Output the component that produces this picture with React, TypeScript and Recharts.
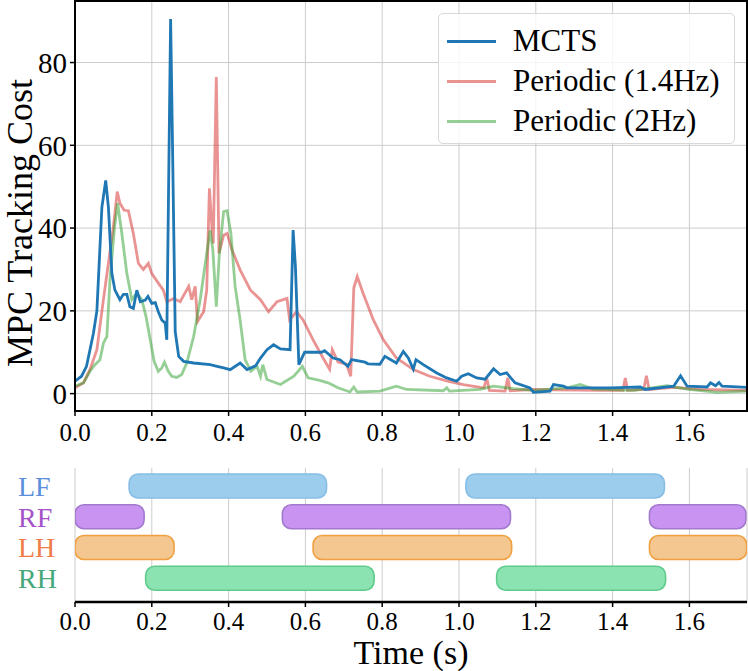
import React from 'react';
import { LineChart, Line, XAxis, YAxis, CartesianGrid, BarChart, Bar, Cell } from 'recharts';

const FONT = '"Liberation Serif", "Times New Roman", serif';

// ---- top panel data ----
const mctsTime = [0, .017, .03, .048, .057, .07, .08, .087, .096, .104, .117, .126, .135, .143, .152, .161, .17, .183, .19, .2, .209, .217, .226, .235, .239, .249, .253, .261, .27, .283, .309, .352, .37, .387, .404, .43, .448, .47, .483, .5, .517, .535, .56, .568, .574, .583, .598, .642, .65, .672, .69, .711, .72, .755, .763, .794, .807, .837, .855, .868, .881, .888, .907, .942, .968, .994, 1.007, 1.024, 1.046, 1.068, 1.09, 1.107, 1.124, 1.146, 1.185, 1.194, 1.237, 1.246, 1.272, 1.281, 1.324, 1.394, 1.437, 1.472, 1.485, 1.559, 1.577, 1.594, 1.646, 1.655, 1.668, 1.677, 1.685, 1.75];
const mctsCost = [3.0, 4.2, 6.6, 14.6, 20, 45, 51.5, 45, 29, 25, 22.7, 24, 24, 21, 20.6, 25, 22.2, 22.6, 23.5, 21.8, 22, 19.8, 17.8, 17, 13, 90.5, 66, 15, 9, 7.8, 7.4, 7, 6.6, 6.2, 5.8, 7.4, 5.8, 6.7, 8.6, 10.6, 11.8, 10.8, 10.6, 39.5, 30.7, 7, 10, 10, 10.4, 8.6, 8.2, 6.6, 8.2, 7.6, 7.2, 7.1, 9, 7.4, 10.2, 8.6, 5.9, 8.2, 7, 5, 3.8, 3, 4.2, 4.8, 3.8, 3.5, 6, 4.6, 5, 2.6, 1.4, 0.3, 0.6, 2.2, 1.8, 1.4, 1.4, 1.4, 1.5, 1.6, 1, 1.8, 4.3, 1.8, 1.6, 2.6, 1.9, 2.7, 1.8, 1.5];

const p14Time = [0, .022, .039, .057, .074, .087, .1, .11, .117, .128, .139, .152, .165, .178, .191, .2, .217, .23, .239, .257, .274, .296, .304, .313, .319, .335, .343, .35, .357, .36, .368, .375, .387, .396, .409, .43, .457, .483, .504, .526, .552, .559, .577, .594, .62, .646, .663, .67, .685, .707, .718, .726, .735, .75, .777, .803, .837, .881, .924, .968, 1.011, 1.055, 1.065, 1.072, 1.079, 1.12, 1.127, 1.133, 1.185, 1.368, 1.427, 1.433, 1.439, 1.481, 1.488, 1.495, 1.559, 1.629, 1.75];
const p14Cost = [1.4, 2.6, 5.8, 10.6, 22.7, 31.5, 40.3, 48.8, 46, 44.3, 44.2, 38.7, 31.5, 30, 31.5, 29, 26.7, 25, 22.2, 23, 22.2, 25.9, 22.7, 25.9, 17.4, 19.8, 25, 49.6, 39.5, 36.3, 76.5, 33.9, 38.3, 38.7, 34.7, 29.9, 25, 22.7, 19.8, 22.2, 23, 17.8, 19.8, 17.8, 13, 8.6, 5.9, 10.6, 7.6, 7.1, 4.2, 25.5, 28.3, 24.3, 17.8, 13, 8.6, 5.8, 4.2, 3.1, 2.2, 1.5, 1.4, 3.8, 0.8, 0.6, 3.8, 0.7, 1.0, 0.8, 0.8, 3.8, 0.8, 1.0, 4.3, 1.0, 1.5, 1.0, 0.8];

const p2Time = [0, .022, .039, .052, .065, .074, .083, .091, .103, .111, .122, .135, .148, .161, .174, .185, .196, .206, .217, .226, .233, .243, .252, .265, .278, .291, .309, .326, .343, .352, .359, .368, .376, .387, .396, .406, .417, .43, .443, .458, .474, .483, .489, .5, .535, .57, .592, .607, .637, .659, .685, .716, .726, .735, .794, .837, .863, .959, .968, .975, 1.055, 1.09, 1.142, 1.194, 1.281, 1.316, 1.35, 1.455, 1.542, 1.594, 1.672, 1.75];
const p2Cost = [1.8, 2.6, 5.4, 7, 8.2, 12.2, 13.8, 27.5, 40.3, 46, 38.7, 29, 22.7, 24.3, 22.7, 18.6, 13, 7.8, 5.4, 6.2, 7.6, 5.4, 4.2, 3.9, 4.6, 7.4, 13.8, 22.7, 33.9, 39.5, 34.7, 21, 33.9, 44, 44.2, 38.7, 25.9, 17.8, 8.2, 5.4, 6.7, 4.2, 7, 3.4, 2.2, 4.2, 6.6, 3.8, 3.2, 2.6, 1.4, 0.4, 1.6, 0.4, 0.6, 1.8, 1.0, 0.7, 1.4, 0.6, 1.0, 1.8, 1.2, 0.8, 1.4, 2.2, 1.1, 0.8, 1.9, 1.1, 0.3, 0.6];

const seriesNames = ['MCTS', 'Periodic (1.4Hz)', 'Periodic (2Hz)'];
const seriesColors = ['#1f77b4', '#d62728', '#2ca02c'];
const seriesOpacity = [1, 0.5, 0.5];

const timeTicks = [0, 0.2, 0.4, 0.6, 0.8, 1.0, 1.2, 1.4, 1.6];
const costTicks = [0, 20, 40, 60, 80];

// ---- bottom panel data (stance phases) ----
const legNames = ['LF', 'RF', 'LH', 'RH'];
const legStarts = [[0.141, 1.018], [0.0, 0.54, 1.496], [0.0, 0.62, 1.496], [0.184, 1.098]];
const legEnds = [[0.655, 1.535], [0.18, 1.134, 1.747], [0.258, 1.137, 1.749], [0.779, 1.538]];
const legFill = ['#9dcdec', '#c993f2', '#f3c78f', '#8ae3b0'];
const legStroke = ['#86bde6', '#a27acd', '#f0a040', '#5fcb8c'];
const legLabelColor = ['#5b8fdc', '#a452c8', '#f07c4a', '#46a87a'];

const toPts = (t: number[], v: number[]) => t.map((x, i) => ({ t: x, v: v[i] }));
const seriesData = [toPts(mctsTime, mctsCost), toPts(p14Time, p14Cost), toPts(p2Time, p2Cost)];

const gaitRows = legNames.map((name, r) => {
  const row: any = { leg: name };
  let prev = 0;
  for (let k = 0; k < 3; k++) {
    const s = legStarts[r][k];
    const e = legEnds[r][k];
    if (s === undefined) { row['g' + k] = 0; row['s' + k] = 0; continue; }
    row['g' + k] = s - prev;
    row['s' + k] = e - s;
    prev = e;
  }
  return row;
});

const tickFont = { fill: '#000', fontSize: 25, fontFamily: FONT };

const GaitTick = (props: any) => {
  const { y, payload } = props;
  const i = legNames.indexOf(payload.value);
  return (
    <text x={18} y={y} fill={legLabelColor[i]} fontSize={28} fontFamily={FONT} dominantBaseline="central">
      {payload.value}
    </text>
  );
};

export default function App() {
  const drawOrder = [1, 2, 0];
  return (
    <div style={{ position: 'absolute', left: 0, top: 0, width: 748, height: 671, background: '#fff', fontFamily: FONT }}>
      <div style={{ position: 'absolute', left: 0, top: 0 }}>
        <LineChart width={748} height={446} margin={{ top: 1.3, right: 1, bottom: 0, left: 0 }}>
          <CartesianGrid stroke="#cccccc" strokeWidth={1} />
          <XAxis
            type="number"
            dataKey="t"
            domain={[0, 1.75]}
            ticks={timeTicks}
            allowDataOverflow
            tickFormatter={(v: number) => v.toFixed(1)}
            height={35}
            axisLine={false}
            tickLine={{ stroke: '#000', strokeWidth: 1.5 }}
            tickSize={5}
            tickMargin={7}
            tick={tickFont}
          />
          <YAxis
            type="number"
            domain={[-4.2, 94.8]}
            ticks={costTicks}
            allowDataOverflow
            width={75}
            axisLine={false}
            tickLine={{ stroke: '#000', strokeWidth: 1.5 }}
            tickSize={5}
            tickMargin={3}
            tick={{ ...tickFont, fontSize: 29 }}
            label={() => (
              <text x={20} y={223} transform="rotate(-90 20 223)" textAnchor="middle" dominantBaseline="central" fontSize={36} fontFamily={FONT} fill="#000">
                MPC Tracking Cost
              </text>
            )}
          />
          {drawOrder.map((i) => (
            <Line
              key={seriesNames[i]}
              data={seriesData[i]}
              dataKey="v"
              name={seriesNames[i]}
              type="linear"
              stroke={seriesColors[i]}
              strokeOpacity={seriesOpacity[i]}
              strokeWidth={2.8}
              dot={false}
              activeDot={false}
              isAnimationActive={false}
            />
          ))}
        </LineChart>
      </div>
      {/* axes frame */}
      <div style={{ position: 'absolute', left: 74, top: 0, width: 674, height: 412, border: '2.5px solid #000', boxSizing: 'border-box', pointerEvents: 'none' }} />
      {/* legend */}
      <div style={{ position: 'absolute', left: 438, top: 13, width: 297, height: 131, border: '1px solid #d8d8d8', borderRadius: 5, background: 'rgba(255,255,255,0.8)', boxSizing: 'border-box' }}>
        {seriesNames.map((n, i) => (
          <div key={n} style={{ position: 'absolute', left: 0, top: 7 + i * 40, height: 40, width: 295, display: 'flex', alignItems: 'center' }}>
            <div style={{ position: 'absolute', left: 8, width: 49, height: 0, borderTop: `3px solid ${seriesColors[i]}`, opacity: seriesOpacity[i], top: 18.5 }} />
            <span style={{ position: 'absolute', left: 74, top: 0, lineHeight: '40px', fontSize: 31, fontFamily: FONT, color: '#000', whiteSpace: 'nowrap' }}>{n}</span>
          </div>
        ))}
      </div>
      <div style={{ position: 'absolute', left: 0, top: 446 }}>
        <BarChart layout="vertical" width={748} height={225} data={gaitRows} margin={{ top: 22, right: 1, bottom: 0, left: 0 }} barSize={24}>
          <CartesianGrid horizontal={false} stroke="#cccccc" strokeWidth={1} />
          <XAxis
            type="number"
            domain={[0, 1.75]}
            ticks={timeTicks}
            allowDataOverflow
            tickFormatter={(v: number) => v.toFixed(1)}
            height={69}
            axisLine={{ stroke: '#000', strokeWidth: 2.5 }}
            tickLine={{ stroke: '#000', strokeWidth: 1.5 }}
            tickSize={5}
            tickMargin={5}
            tick={tickFont}
            label={() => (
              <text x={411} y={206} textAnchor="middle" dominantBaseline="central" fontSize={34} fontFamily={FONT} fill="#000">
                Time (s)
              </text>
            )}
          />
          <YAxis type="category" dataKey="leg" width={75} axisLine={false} tickLine={false} tick={<GaitTick />} padding={{ top: 3, bottom: 8 }} />
          {[0, 1, 2].map((k) => [
            <Bar key={'g' + k} dataKey={'g' + k} stackId="gait" fill="transparent" isAnimationActive={false} />,
            <Bar key={'s' + k} dataKey={'s' + k} stackId="gait" radius={9} strokeWidth={1.6} isAnimationActive={false}>
              {gaitRows.map((_, r) => (
                <Cell key={r} fill={legFill[r]} stroke={legStroke[r]} />
              ))}
            </Bar>,
          ])}
        </BarChart>
      </div>
    </div>
  );
}
